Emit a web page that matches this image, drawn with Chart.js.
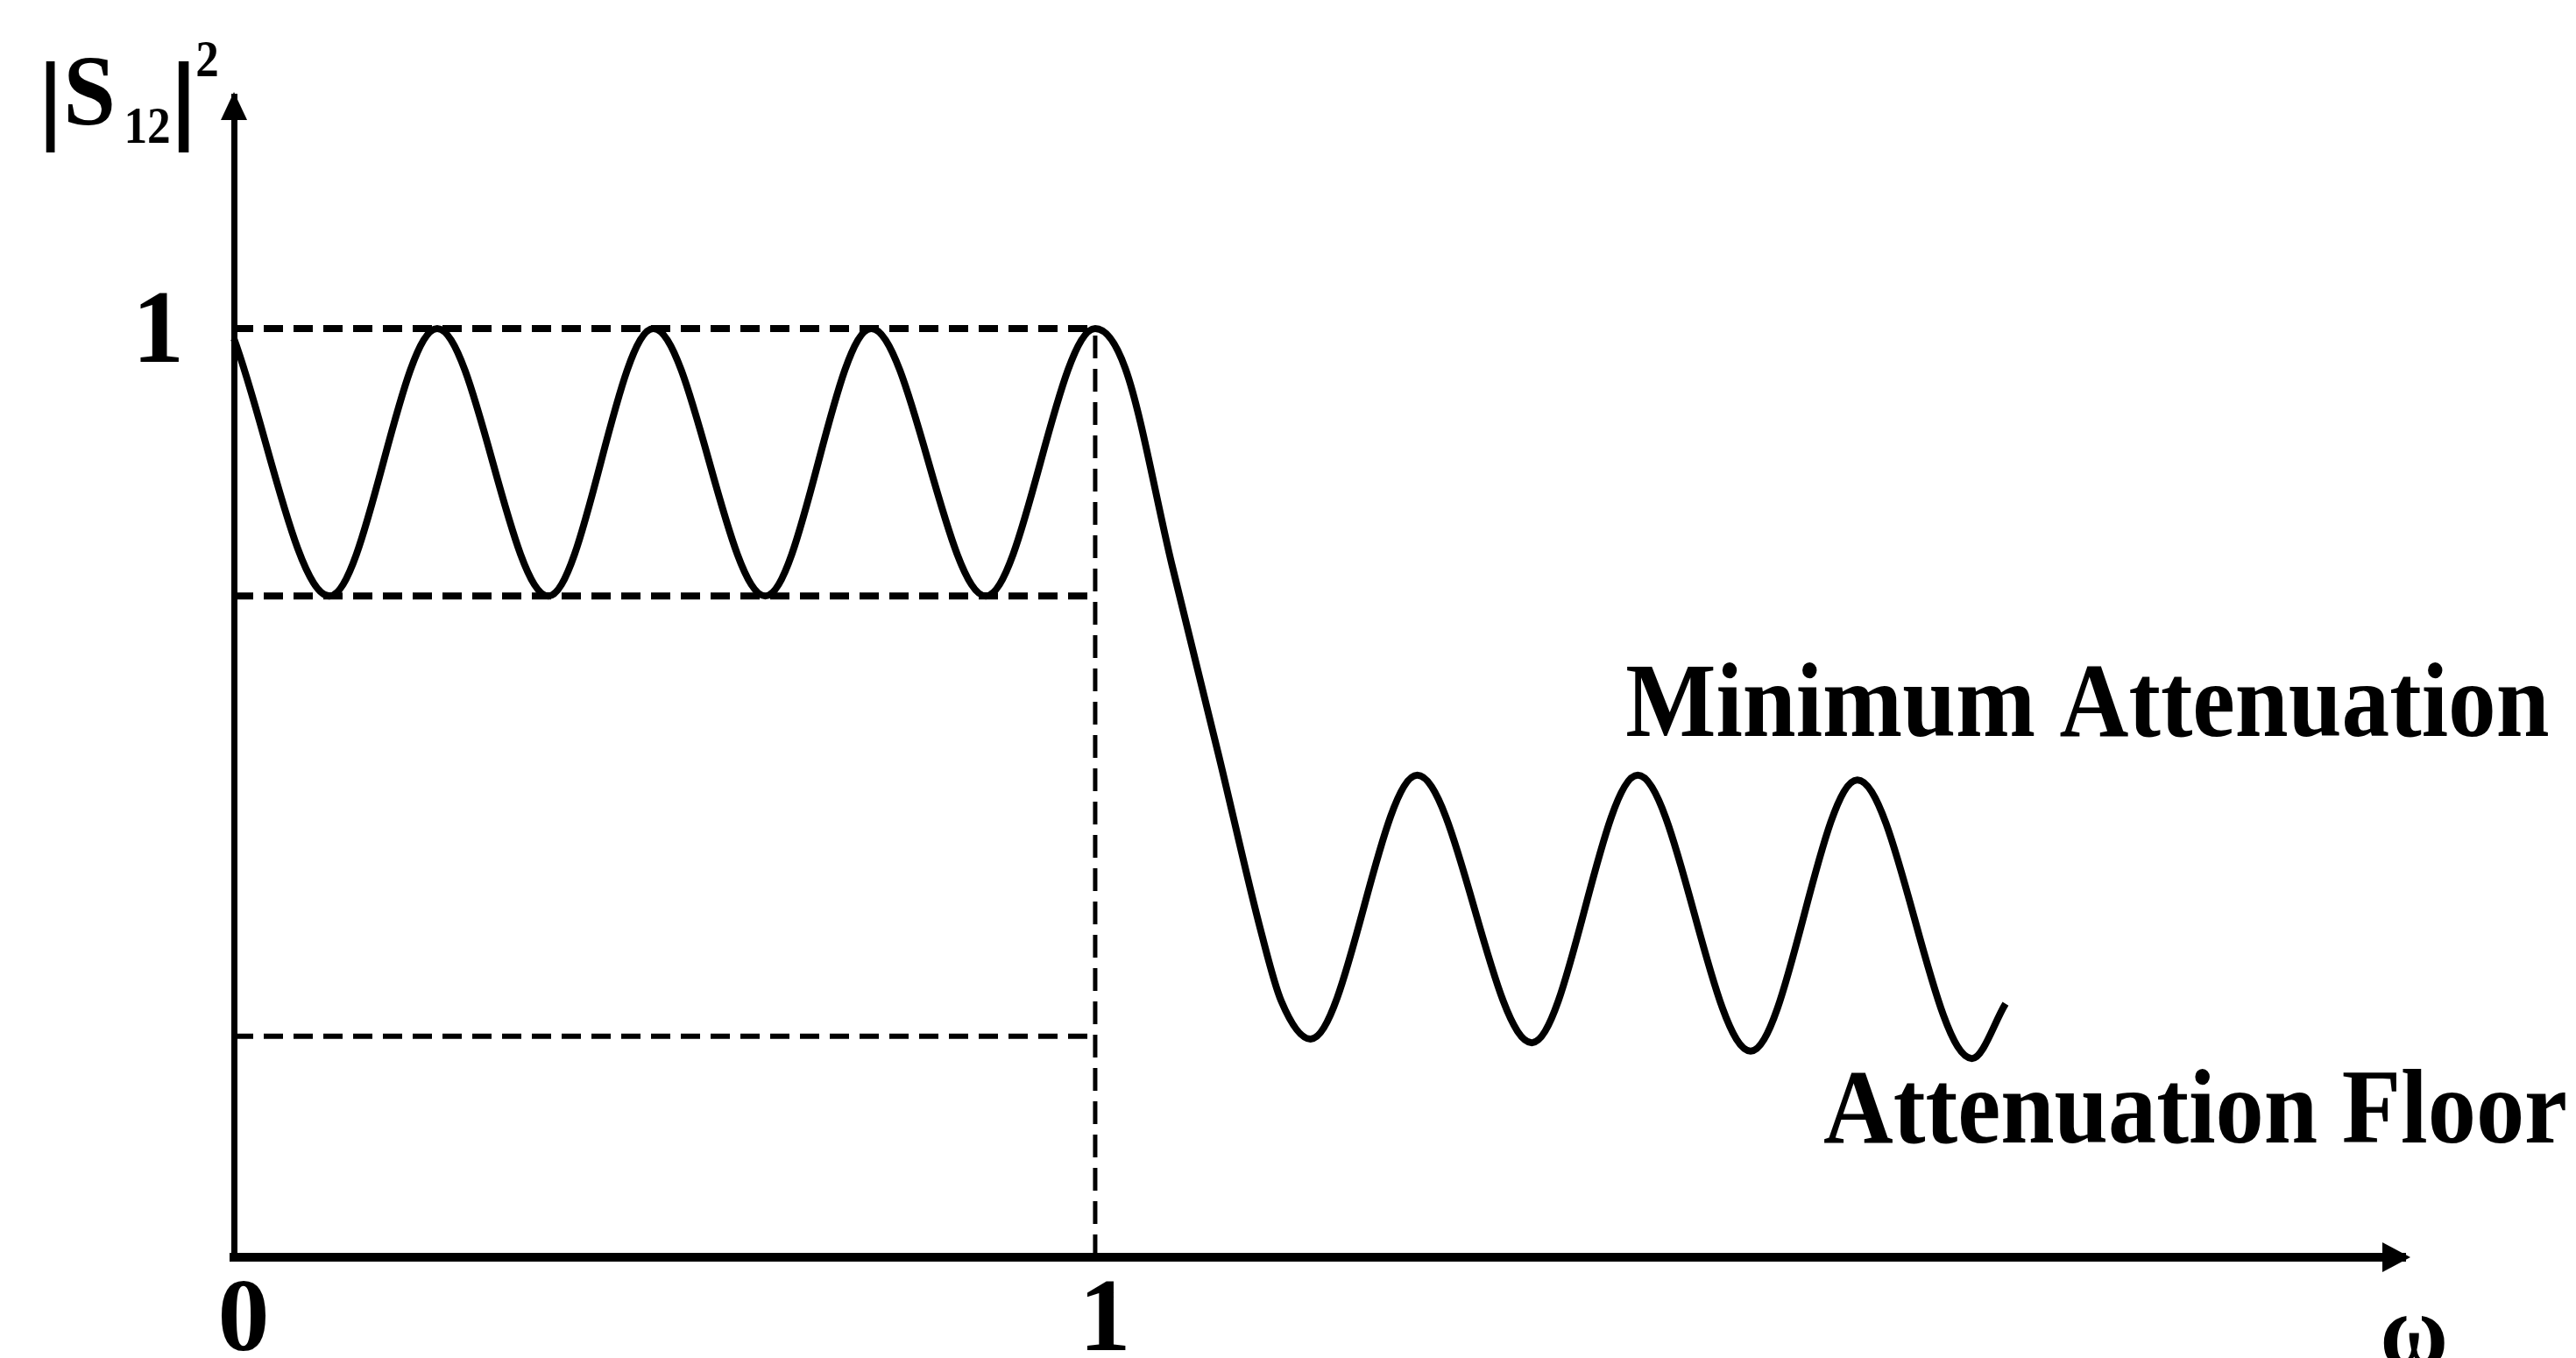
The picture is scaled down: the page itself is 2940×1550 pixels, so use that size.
<!DOCTYPE html>
<html>
<head>
<meta charset="utf-8">
<title>|S12|² response</title>
<script src="https://cdn.jsdelivr.net/npm/chart.js@4.4.1/dist/chart.umd.min.js"></script>
<style>
  html, body { margin: 0; padding: 0; background: #fff; }
  canvas { display: block; }
</style>
</head>
<body>
<canvas id="chart" width="2940" height="1550"></canvas>
<script>
// Normalised frequency ω and |S12|² of the filter response
const responseOmega = [0, 0.111, 0.236, 0.365, 0.487, 0.617, 0.740, 0.873, 1.0,
  1.035, 1.089, 1.143, 1.193, 1.216, 1.250,
  1.374, 1.507, 1.630, 1.761, 1.885, 2.018, 2.057];
const responseGain = [0.989, 0.712, 1.0, 0.712, 1.0, 0.712, 1.0, 0.712, 1.0,
  0.957, 0.746, 0.542, 0.349, 0.276, 0.235,
  0.519, 0.231, 0.519, 0.222, 0.514, 0.214, 0.273];

// Reference levels
const passbandEdge = 1.0;
const rippleMax = 1.0;
const rippleMin = 0.712;
const attenuationFloor = 0.238;

// Axis ranges and tick labels
const xRange = [0, 2.521];
const yRange = [0, 1.25];
const xTickValues = [0, 1];
const xTickLabels = ['0', '1'];
const yTickValues = [1];
const yTickLabels = ['1'];

// Annotation texts
const yAxisTitle = { bar: '|', name: 'S', sub: '12', sup: '2' };
const xAxisTitle = 'ω';
const upperNote = 'Minimum Attenuation';
const lowerNote = 'Attenuation Floor';

const SERIF = '"Liberation Serif", "Times New Roman", serif';

const pts = (xs, ys) => xs.map((x, i) => ({ x, y: ys[i] }));

// Draws text so that its ink starts at `left`, optionally squeezed to an ink width
function inkText(ctx, text, font, left, baseline, width) {
  ctx.font = font;
  const m = ctx.measureText(text);
  const inkW = m.actualBoundingBoxLeft + m.actualBoundingBoxRight;
  const sx = width ? width / inkW : 1;
  ctx.save();
  ctx.translate(left, baseline);
  ctx.scale(sx, 1);
  ctx.fillText(text, m.actualBoundingBoxLeft, 0);
  ctx.restore();
}

const decorations = {
  id: 'decorations',
  afterDraw(chart) {
    const { ctx, chartArea: a } = chart;
    ctx.save();
    ctx.fillStyle = '#000';
    ctx.textAlign = 'left';
    ctx.textBaseline = 'alphabetic';

    // arrow heads on both axes
    ctx.beginPath();
    ctx.moveTo(a.left, a.top - 5);
    ctx.lineTo(a.left - 15, a.top + 27);
    ctx.lineTo(a.left + 15, a.top + 27);
    ctx.closePath();
    ctx.fill();
    ctx.beginPath();
    ctx.moveTo(a.right + 6, a.bottom);
    ctx.lineTo(a.right - 26, a.bottom - 17);
    ctx.lineTo(a.right - 26, a.bottom + 17);
    ctx.closePath();
    ctx.fill();

    // y axis title |S12|²
    const big = `bold 114px ${SERIF}`;
    const small = `bold 60px ${SERIF}`;
    inkText(ctx, yAxisTitle.bar, big, 52, 150, 11);
    inkText(ctx, yAxisTitle.name, big, 78, 142, 50);
    inkText(ctx, yAxisTitle.sub, small, 145, 163, 48);
    inkText(ctx, yAxisTitle.bar, big, 203, 150, 13);
    inkText(ctx, yAxisTitle.sup, small, 225, 87, 23);

    // x axis title
    ctx.font = `bold 118px ${SERIF}`;
    const mw = ctx.measureText(xAxisTitle);
    inkText(ctx, xAxisTitle, `bold 118px ${SERIF}`, 2720, 1502 + mw.actualBoundingBoxAscent, 70);

    // stopband annotations
    inkText(ctx, upperNote, `bold 120px ${SERIF}`, 1857, 840, 1051);
    inkText(ctx, lowerNote, `bold 120px ${SERIF}`, 2082, 1304, 846);
    ctx.restore();
  }
};

const tickFont = { family: SERIF, size: 118, weight: 'bold', lineHeight: 1 };

new Chart(document.getElementById('chart'), {
  type: 'line',
  data: {
    datasets: [
      {
        data: pts(responseOmega, responseGain),
        borderColor: '#000', borderWidth: 8, pointRadius: 0,
        cubicInterpolationMode: 'monotone', fill: false, clip: false
      },
      {
        data: pts([0, passbandEdge], [rippleMax, rippleMax]),
        borderColor: '#000', borderWidth: 8, borderDash: [22, 12], pointRadius: 0, clip: false
      },
      {
        data: pts([0, passbandEdge], [rippleMin, rippleMin]),
        borderColor: '#000', borderWidth: 8, borderDash: [22, 12], pointRadius: 0, clip: false
      },
      {
        data: pts([0, passbandEdge], [attenuationFloor, attenuationFloor]),
        borderColor: '#000', borderWidth: 6, borderDash: [22, 12], pointRadius: 0, clip: false
      },
      {
        data: pts([passbandEdge, passbandEdge], [0, rippleMax]),
        borderColor: '#000', borderWidth: 5, borderDash: [26, 12], pointRadius: 0, clip: false
      }
    ]
  },
  options: {
    responsive: false,
    animation: false,
    devicePixelRatio: 1,
    layout: { padding: { left: 0, top: 110, right: 195, bottom: 0 } },
    plugins: { legend: { display: false }, tooltip: { enabled: false } },
    scales: {
      x: {
        type: 'linear', min: xRange[0], max: xRange[1],
        grid: { display: false },
        border: { display: true, color: '#000', width: 10 },
        afterBuildTicks: s => { s.ticks = xTickValues.map(v => ({ value: v })); },
        afterFit: s => { s.height = 115; },
        ticks: {
          callback: (v, i) => xTickLabels[i],
          color: '#000', font: tickFont, padding: 9, labelOffset: 11,
          maxRotation: 0, autoSkip: false
        }
      },
      y: {
        type: 'linear', min: yRange[0], max: yRange[1],
        grid: { display: false },
        border: { display: true, color: '#000', width: 7 },
        afterBuildTicks: s => { s.ticks = yTickValues.map(v => ({ value: v })); },
        afterFit: s => { s.width = 267; },
        ticks: {
          callback: (v, i) => yTickLabels[i],
          color: '#000', font: tickFont, padding: 49, labelOffset: 8,
          autoSkip: false
        }
      }
    }
  },
  plugins: [decorations]
});
</script>
</body>
</html>
